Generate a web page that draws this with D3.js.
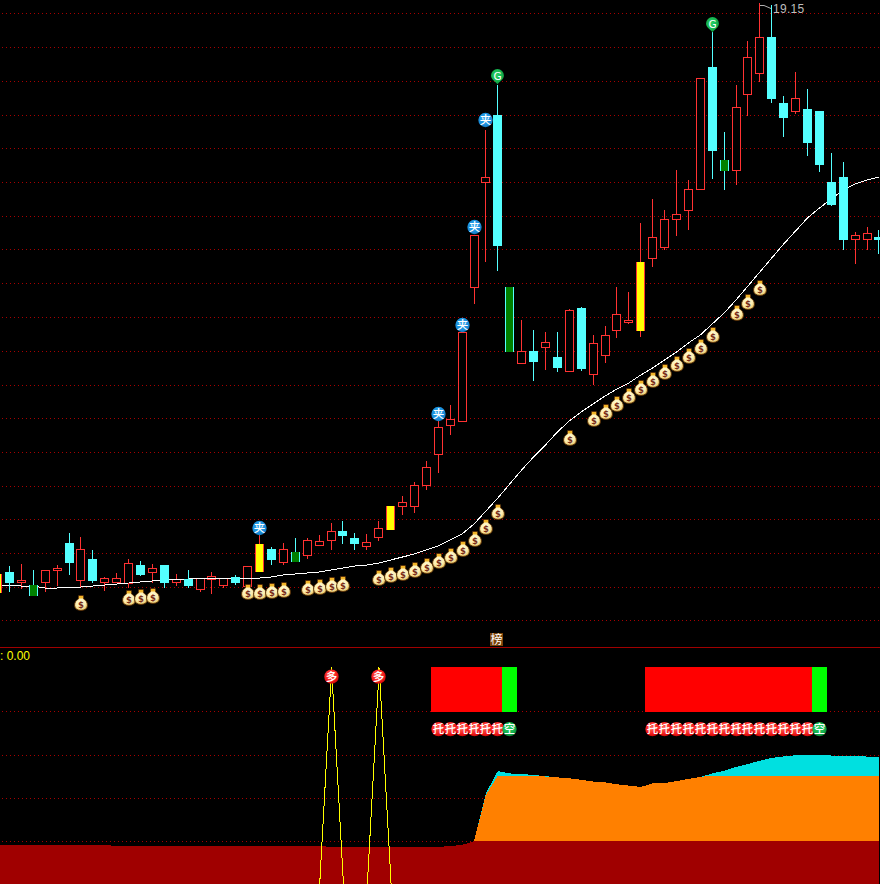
<!DOCTYPE html>
<html><head><meta charset="utf-8">
<script src="https://cdn.jsdelivr.net/npm/d3@7/dist/d3.min.js"></script>
<style>html,body{margin:0;padding:0;background:#000;overflow:hidden}svg{display:block}</style>
</head><body><div id="c"></div>
<script>
// ---- candle data ----
const kindList = ["Y","C","R","G","R","R","C","R","C","R","R","R","C","R","C","R","C","R","R","R","C","R","Y","C","R","G","R","R","R","C","C","R","R","Y","R","R","R","R","R","R","R","R","C","G","R","C","R","C","R","C","R","R","R","R","Y","R","R","R","R","R","C","G","R","R","R","C","C","R","C","C","C","C","R","R","C"];
const opens  = [7.37,7.77,7.57,7.51,7.57,7.81,8.35,7.61,8.03,7.57,7.57,7.55,7.91,7.77,7.91,7.57,7.63,7.43,7.63,7.51,7.67,7.49,7.79,8.23,7.97,8.17,8.11,8.31,8.41,8.59,8.45,8.29,8.47,8.63,9.09,9.09,9.51,10.13,10.71,10.79,13.47,15.57,16.91,13.47,11.95,12.19,12.27,12.07,11.79,13.05,11.73,12.11,12.61,12.77,12.61,14.05,14.27,14.83,15.01,15.43,17.87,16.01,15.81,17.33,17.75,18.47,17.15,16.99,17.03,16.99,15.57,15.67,14.43,14.43,14.47];
const closes = [7.73,7.57,7.61,7.31,7.81,7.85,7.97,8.23,7.61,7.65,7.65,7.95,7.73,7.85,7.57,7.63,7.51,7.65,7.69,7.65,7.57,7.89,8.33,8.03,8.23,7.99,8.41,8.39,8.59,8.51,8.35,8.37,8.65,9.09,9.17,9.51,9.87,10.67,10.83,12.57,14.51,15.67,14.31,12.19,12.19,11.99,12.37,11.87,13.01,11.85,12.35,12.51,12.93,12.81,13.97,14.47,14.83,14.93,15.43,17.65,16.21,15.81,17.07,18.07,18.47,17.25,16.87,17.25,16.37,15.93,15.13,14.43,14.51,14.55,14.43];
const highs  = [7.73,7.89,7.93,7.81,7.81,7.91,8.55,8.47,8.21,7.67,7.75,8.03,7.99,7.93,7.91,7.73,7.81,7.65,7.77,7.65,7.71,7.89,8.51,8.27,8.35,8.45,8.45,8.51,8.75,8.79,8.55,8.53,8.79,9.09,9.29,9.57,9.99,10.79,11.11,12.57,14.51,16.61,17.51,13.47,12.81,12.61,12.57,12.57,13.03,13.07,12.51,12.69,13.47,13.37,14.75,15.23,15.01,15.81,15.61,17.65,18.57,16.57,17.51,18.39,19.15,19.11,17.29,17.77,17.43,16.99,16.15,15.97,14.57,14.67,14.61];
const lows   = [7.37,7.39,7.45,7.31,7.39,7.51,7.73,7.47,7.57,7.41,7.57,7.47,7.71,7.57,7.47,7.51,7.47,7.39,7.35,7.47,7.53,7.49,7.79,7.93,7.93,7.99,8.05,8.31,8.23,8.35,8.23,8.23,8.41,8.63,8.93,8.97,9.43,9.77,10.53,10.79,13.15,13.99,13.81,12.19,11.95,11.61,11.83,11.79,11.79,11.81,11.53,11.97,12.47,12.75,12.49,13.89,14.23,14.51,14.63,15.43,15.65,15.43,15.53,16.91,17.59,17.17,16.49,16.95,16.11,15.79,15.11,14.23,13.95,14.23,14.15];
const ma     = [7.51,7.51,7.49,7.49,7.45,7.45,7.47,7.47,7.49,7.51,7.53,7.55,7.57,7.59,7.61,7.63,7.63,7.65,7.65,7.65,7.65,7.65,7.65,7.67,7.71,7.73,7.75,7.77,7.81,7.85,7.89,7.91,7.95,8.01,8.07,8.13,8.21,8.29,8.41,8.53,8.73,8.99,9.25,9.53,9.81,10.07,10.31,10.57,10.79,10.97,11.13,11.29,11.43,11.55,11.71,11.85,12.01,12.17,12.35,12.51,12.73,12.95,13.21,13.49,13.77,14.05,14.33,14.59,14.85,15.05,15.23,15.41,15.53,15.61,15.67];
const gridPrices = [18.95,18.27,17.59,16.91,16.25,15.57,14.89,14.23,13.55,12.87,12.19,11.51,10.85,10.17,9.49,8.83,8.15,7.47,6.81];
// ---- signals on the price panel ----
const bagIndex = [7,11,12,13,21,22,23,24,26,27,28,29,32,33,34,35,36,37,38,39,40,41,42,48,50,51,52,53,54,55,56,57,58,59,60,62,63,64];
const bagPrice = [7.15,7.25,7.27,7.29,7.37,7.37,7.39,7.41,7.45,7.47,7.51,7.53,7.65,7.71,7.75,7.81,7.89,7.99,8.09,8.23,8.43,8.67,8.97,10.45,10.83,10.97,11.13,11.29,11.45,11.61,11.77,11.93,12.09,12.27,12.51,12.95,13.17,13.45];
const jiaIndex = [22,37,39,40,41];
const jiaPrice = [8.65,10.93,12.71,14.67,16.81];
const pinIndex = [42,60];
const pinPrice = [17.69,18.73];
const highLabel = "19.15";
const highIndex = 64;
const tagIndex = 42;
const tagText = "榜";
// ---- lower panel (0..100) ----
const lowerGrid = [80,60,40,20];
const darkRed = [18.3,18.3,18.3,18.3,18.3,18.3,18.3,18.3,18.3,18.3,17.8,17.8,17.8,17.8,17.8,17.8,17.8,17.8,17.8,17.8,17.8,17.8,17.8,17.8,17.8,17.8,17.8,17.8,17.4,17.4,17.4,17.4,17.4,17.4,17.4,17.4,17.4,17.4,17.8,18.3,20.1,20.1,20.1,20.1,20.1,20.1,20.1,20.1,20.1,20.1,20.1,20.1,20.1,20.1,20.1,20.1,20.1,20.1,20.1,20.1,20.1,20.1,20.1,20.1,20.1,20.1,20.1,20.1,20.1,20.1,20.1,20.1,20.1,20.1,20.1];
const areaStart = 40;
const orangeTop = [20.1,41.4,50.3,50.2,50.1,50.1,49.9,49.5,49.1,48.4,47.6,47.2,46.3,45.7,45.1,46.7,46.9,47.8,48.8,49.7,50.3,50.3,50.3,50.3,50.3,50.3,50.3,50.3,50.3,50.3,50.3,50.3,50.3,50.3,50.3];
const cyanTop   = [20.1,42.3,52.4,51.3,51.1,50.6,50.1,49.5,49.1,48.4,47.6,47.2,46.3,45.7,45.1,46.7,46.9,47.8,48.8,49.7,51.3,52.6,54.3,55.7,57.2,58.5,59.2,59.7,59.7,59.7,59.6,59.5,59.4,59.1,58.9];
const pulseLine = [0,0,0,0,0,0,0,0,0,0,0,0,0,0,0,0,0,0,0,0,0,0,0,0,0,0,0,0,100,0,0,0,100,0,0,0,0,0,0,0,0,0,0,0,0,0,0,0,0,0,0,0,0,0,0,0,0,0,0,0,0,0,0,0,0,0,0,0,0,0,0,0,0,0,0];
const duoIndex = [28,32];
const duoValue = [96,96];
const barRed = [37,38,39,40,41,42,55,56,57,58,59,60,61,62,63,64,65,66,67,68];
const barGreen = [43,69];
const barTop = 100, barBottom = 80;
const tuoIndex = [37,38,39,40,41,42,55,56,57,58,59,60,61,62,63,64,65,66,67,68];
const kongIndex = [43,69];
const coinValue = 71.8;
const indicatorLabel = ": 0.00";

// ---- scales ----
const W = 880, H = 884;
const x = d3.scaleLinear().domain([0,74]).range([-2.4,878.94]);
const y = d3.scaleLinear().domain([19.21,5.21]).range([0,700]);
const yl = d3.scaleLinear().domain([0,100]).range([884.6,668]);
const RED="#ff3232", CYAN="#54ffff", GREEN="#008000", YEL="#ffff00", GRID="#a80000";
const CJK = "'Noto Sans CJK SC','Noto Sans',sans-serif";

const svg = d3.select("#c").append("svg").attr("width",W).attr("height",H).attr("viewBox",`0 0 ${W} ${H}`).style("background","#000");
const defs = svg.append("defs");
function grad(id,a,b,c){
  const g=defs.append("radialGradient").attr("id",id).attr("cx","45%").attr("cy","40%").attr("r","60%");
  g.append("stop").attr("offset","0%").attr("stop-color",a);
  g.append("stop").attr("offset","70%").attr("stop-color",b);
  g.append("stop").attr("offset","100%").attr("stop-color",c);
}
grad("gBlue","#2ba4ec","#1a8fdc","#1478c0");
grad("gGreen","#28d068","#14b04c","#0b8034");
grad("gRed","#ff6a58","#f41c1c","#cc0808");
grad("gBag","#fff8cc","#fdeeb0","#ecc868");

// grids
const gridG = svg.append("g").attr("shape-rendering","crispEdges");
const dotted = (g,vals,sc)=>g.selectAll(null).data(vals).join("line")
  .attr("x1",2).attr("x2",W).attr("y1",d=>Math.round(sc(d))+.5).attr("y2",d=>Math.round(sc(d))+.5)
  .attr("stroke",GRID).attr("stroke-width",1).attr("stroke-dasharray","1 3");
dotted(gridG,gridPrices,y);
dotted(gridG,lowerGrid,yl);
gridG.append("line").attr("x1",0).attr("x2",W).attr("y1",647.5).attr("y2",647.5).attr("stroke","#a00000");

// lower panel areas
const idx = d3.range(areaStart,75);
const lower = svg.append("g").attr("shape-rendering","crispEdges");
lower.append("path").attr("fill","#00e0e0").attr("d",d3.area().x(i=>x(i)).y0(yl(darkRed[74])).y1(i=>yl(cyanTop[i-areaStart]))(idx));
lower.append("path").attr("fill","#ff8000").attr("d",d3.area().x(i=>x(i)).y0(yl(darkRed[74])).y1(i=>yl(orangeTop[i-areaStart]))(idx));
lower.append("path").attr("fill","#a00000").attr("d",d3.area().x((d,i)=>x(i)).y0(H+2).y1(d=>yl(d))(darkRed));

// red / green blocks
const barW = 15;
const blocks = lower.append("g");
blocks.selectAll("r").data(barRed).join("rect").attr("x",i=>Math.round(x(i)-barW/2)).attr("width",barW)
  .attr("y",Math.round(yl(barTop))-1).attr("height",45).attr("fill","#ff0000");
blocks.selectAll("g").data(barGreen).join("rect").attr("x",i=>Math.round(x(i)-barW/2)).attr("width",barW)
  .attr("y",Math.round(yl(barTop))-1).attr("height",45).attr("fill","#00ff00");

// yellow pulse line
svg.append("path").attr("fill","none").attr("stroke",YEL).attr("stroke-width",1).attr("shape-rendering","crispEdges")
  .attr("d",d3.line().x((d,i)=>x(i)+.5).y(d=>yl(d))(pulseLine));

// candles
const candles = d3.range(75).map(i=>({i,k:kindList[i],o:opens[i],c:closes[i],h:highs[i],l:lows[i]}));
const colorOf = d=> (d.k==="R"||d.k==="Y") ? RED : CYAN;
function wicks(g,data){
  g.selectAll(null).data(data).join("rect")
    .attr("x",d=>Math.floor(x(d.i))).attr("width",1)
    .attr("y",d=>Math.round(y(d.h))).attr("height",d=>Math.round(y(d.l))-Math.round(y(d.h))+1)
    .attr("fill",colorOf);
}
const tp = d=>Math.round(y(Math.max(d.o,d.c))), bt = d=>Math.round(y(Math.min(d.o,d.c)));
const hollowG = svg.append("g").attr("shape-rendering","crispEdges");
const hollow = candles.filter(d=>d.k==="R");
wicks(hollowG,hollow);
hollowG.selectAll("rect.b").data(hollow).join("rect").attr("class","b")
  .attr("x",d=>Math.floor(x(d.i))-4+.5).attr("width",8)
  .attr("y",d=>tp(d)+.5).attr("height",d=>bt(d)-tp(d))
  .attr("fill","#000").attr("stroke",RED);

// MA line
svg.append("path").attr("fill","none").attr("stroke","#fff").attr("stroke-width",1).attr("shape-rendering","crispEdges")
  .attr("d",d3.line().x((d,i)=>x(i)).y(d=>y(d))(ma));

const solidG = svg.append("g").attr("shape-rendering","crispEdges");
const solid = candles.filter(d=>d.k!=="R");
wicks(solidG,solid);
solidG.selectAll("rect.b").data(solid).join("rect").attr("class","b")
  .attr("x",d=>Math.floor(x(d.i))-4).attr("width",9)
  .attr("y",tp).attr("height",d=>bt(d)-tp(d)+1).attr("fill",colorOf);
solidG.selectAll("rect.in").data(solid.filter(d=>d.k!=="C")).join("rect").attr("class","in")
  .attr("x",d=>Math.floor(x(d.i))-3).attr("width",7)
  .attr("y",tp).attr("height",d=>bt(d)-tp(d)+1).attr("fill",d=>d.k==="Y"?YEL:GREEN);

// money bags
const bagG = svg.append("g").selectAll("g").data(bagIndex).join("g")
  .attr("transform",(d,i)=>`translate(${Math.floor(x(d))+1},${Math.round(y(bagPrice[i]))})`);
bagG.append("path").attr("d","M-2.2,-7.5 L2.2,-7.5 L2.6,-4 C5.4,-2.6 6.6,0 6.4,2.8 C6.2,6 3.4,7.4 0,7.4 C-3.4,7.4 -6.2,6 -6.4,2.8 C-6.6,0 -5.4,-2.6 -2.6,-4 Z")
  .attr("fill","url(#gBag)").attr("stroke","#5a3006").attr("stroke-width",1);
bagG.append("path").attr("d","M-2,-7 L2,-7 L2.2,-4.4 L-2.2,-4.4 Z").attr("fill","#f0b428");
bagG.append("text").text("$").attr("text-anchor","middle").attr("y",5.4).attr("font-size",8.5).attr("font-weight","bold")
  .attr("font-family","'DejaVu Sans',sans-serif").attr("fill","#7a2c18");

// coin markers
function coin(g,cx,cy,fillId,txt){
  g.append("circle").attr("cx",cx).attr("cy",cy).attr("r",7.2).attr("fill",`url(#${fillId})`);
  g.append("text").text(txt).attr("x",cx).attr("y",cy+4.2).attr("text-anchor","middle").attr("font-size",11.5)
    .attr("font-family",CJK).attr("font-weight",500).attr("fill","#fff");
}
const mk = svg.append("g");
jiaIndex.forEach((d,i)=>coin(mk,Math.floor(x(d))+.5,y(jiaPrice[i]),"gBlue","夹"));
duoIndex.forEach((d,i)=>{
  mk.append("rect").attr("x",Math.floor(x(d))).attr("y",yl(100)-1).attr("width",1).attr("height",4).attr("fill",YEL);
  coin(mk,Math.floor(x(d))+.5,yl(duoValue[i]),"gRed","多");
});
tuoIndex.forEach(d=>coin(mk,Math.floor(x(d))+.5,yl(coinValue),"gRed","托"));
kongIndex.forEach(d=>coin(mk,Math.floor(x(d))+.5,yl(coinValue),"gGreen","空"));

// G pins
pinIndex.forEach((d,i)=>{
  const px=Math.floor(x(d))+.5, py=y(pinPrice[i]);
  mk.append("path").attr("transform",`translate(${px},${py})`)
    .attr("d","M0,8.5 C-1.5,6 -6.5,3.5 -6.5,-0.5 A6.5,6.5 0 1 1 6.5,-0.5 C6.5,3.5 1.5,6 0,8.5 Z")
    .attr("fill","url(#gGreen)");
  mk.append("text").text("G").attr("x",px).attr("y",py+3.6).attr("text-anchor","middle").attr("font-size",10.5)
    .attr("font-family","'DejaVu Sans',sans-serif").attr("fill","#fff");
});

// top label + 榜 tag
const hx = Math.floor(x(highIndex));
svg.append("path").attr("d",`M${hx+1},5.5 L${hx+5},5.5 L${hx+12},8.5`).attr("fill","none").attr("stroke","#b0b0b0").attr("stroke-width",1);
svg.append("text").text(highLabel).attr("x",hx+14).attr("y",13).attr("font-size",12).attr("letter-spacing",.3)
  .attr("font-family","'Liberation Sans',sans-serif").attr("fill","#bdbdbd");
const tx = Math.floor(x(tagIndex));
svg.append("rect").attr("x",tx-7).attr("y",633).attr("width",13).attr("height",13).attr("fill","#7a4208").attr("shape-rendering","crispEdges");
svg.append("text").text(tagText).attr("x",tx-.5).attr("y",644).attr("text-anchor","middle").attr("font-size",12)
  .attr("font-family",CJK).attr("fill","#fff");
svg.append("text").text(indicatorLabel).attr("x",0).attr("y",660).attr("font-size",12)
  .attr("font-family","'Liberation Sans',sans-serif").attr("fill",YEL);
</script></body></html>
